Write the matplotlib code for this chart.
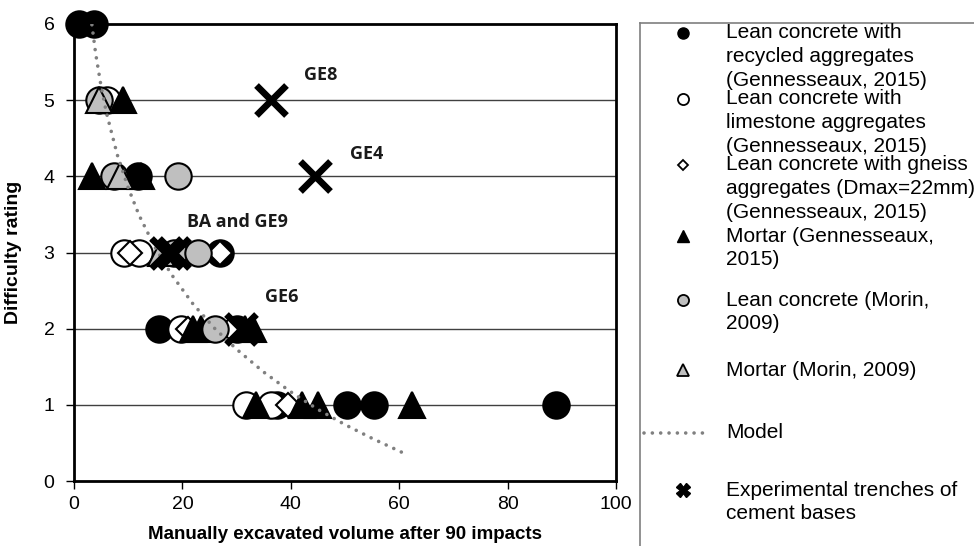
import numpy as np
import matplotlib.pyplot as plt

# Données
black_circle_x = [0.9, 3.7, 11.8, 27.0, 15.7, 30.0, 37.5, 50.3, 55.3, 89.0]
black_circle_y = [6, 6, 4, 3, 2, 2, 1, 1, 1, 1]

open_circle_x = [6.0, 9.2, 12.0, 19.8, 31.7, 36.3]
open_circle_y = [5, 3, 3, 2, 1, 1]

open_diamond_x = [10.3, 27.0, 21.0, 28.9, 39.5]
open_diamond_y = [3, 3, 2, 2, 1]

black_triangle_x = [9.0, 3.3, 12.3, 21.9, 23.5, 31.5, 33.1, 33.5, 42.0, 45.0, 62.3]
black_triangle_y = [5, 4, 4, 2, 2, 2, 2, 1, 1, 1, 1]

gray_circle_x = [4.6, 7.4, 19.2, 18.4, 22.8, 26.0]
gray_circle_y = [5, 4, 4, 3, 3, 2]

gray_triangle_x = [4.6, 8.5, 16.0]
gray_triangle_y = [5, 4, 3]

model_x = [3.3, 4, 5, 6, 8, 10, 12, 15, 18, 22, 26, 30, 35, 40, 45, 50, 55, 61]
model_y = [5.99, 5.61, 5.18, 4.83, 4.28, 3.85, 3.49, 3.06, 2.71, 2.32, 2.00,
           1.73, 1.43, 1.17, 0.94, 0.74, 0.56, 0.36]

trench_x = [36.3, 44.4, 17.0, 18.5, 30.8]
trench_y = [5, 4, 3, 3, 2]

labels = ['GE8', 'GE4', 'BA and GE9', 'GE6']
label_x = [42.4, 51.0, 20.8, 35.2]
label_y = [5.33, 4.29, 3.40, 2.42]

legend_labels = [
    'Lean concrete with\nrecycled aggregates\n(Gennesseaux, 2015)',
    'Lean concrete with\nlimestone aggregates\n(Gennesseaux, 2015)',
    'Lean concrete with gneiss\naggregates (Dmax=22mm)\n(Gennesseaux, 2015)',
    'Mortar (Gennesseaux,\n2015)',
    'Lean concrete (Morin,\n2009)',
    'Mortar (Morin, 2009)',
    'Model',
    'Experimental trenches of\ncement bases',
]

plt.rcParams['font.family'] = ['Liberation Sans', 'DejaVu Sans']
GRAY = '#BFBFBF'

fig = plt.figure(figsize=(9.74, 5.46), dpi=100)
ax = fig.add_axes([74 / 974, (546 - 481) / 546, (616 - 74) / 974, (481 - 24) / 546])

for y in range(1, 6):
    ax.axhline(y, color='#404040', lw=1.0, zorder=0)

ms = 19
kw = dict(linestyle='none', clip_on=False)
ax.plot(black_circle_x, black_circle_y, marker='o', ms=ms, mfc='black', mec='black', mew=1.5, zorder=3, **kw)
ax.plot(open_circle_x, open_circle_y, marker='o', ms=ms, mfc='white', mec='black', mew=1.5, zorder=4, **kw)
ax.plot(open_diamond_x, open_diamond_y, marker='D', ms=12, mfc='white', mec='black', mew=1.5, zorder=5, **kw)
ax.plot(black_triangle_x, black_triangle_y, marker='^', ms=ms, mfc='black', mec='black', mew=1.5, zorder=6, **kw)
ax.plot(gray_circle_x, gray_circle_y, marker='o', ms=ms, mfc=GRAY, mec='black', mew=1.5, zorder=7, **kw)
ax.plot(gray_triangle_x, gray_triangle_y, marker='^', ms=ms, mfc=GRAY, mec='black', mew=1.5, zorder=8, **kw)
ax.plot(model_x, model_y, color='#808080', lw=2.6, linestyle=(0, (0.01, 2.3)),
        dash_capstyle='round', zorder=9)
ax.plot(trench_x, trench_y, marker='x', ms=22, mec='black', mew=4.8, zorder=10, **kw)

for t, x, y in zip(labels, label_x, label_y):
    ax.text(x, y, t, fontsize=13, fontweight='bold', family=['Open Sans', 'DejaVu Sans'],
            va='center', ha='left', color='#1a1a1a')

ax.set_xlim(0, 100)
ax.set_ylim(0, 6)
ax.set_xticks([0, 20, 40, 60, 80, 100])
ax.set_yticks(range(0, 7))
for s in ax.spines.values():
    s.set_linewidth(2)
ax.tick_params(direction='out', length=6, width=1, labelsize=14, colors='black')
ax.tick_params(axis='y', pad=8)
ax.tick_params(axis='x', pad=5)
ax.set_xlabel('Manually excavated volume after 90 impacts', fontsize=13.5, fontweight='bold')
ax.set_ylabel('Difficulty rating', fontsize=14, fontweight='bold')
ax.xaxis.set_label_coords(0.5, -0.118)
ax.xaxis.label.set_va('center')
ax.yaxis.set_label_coords(-0.112, 0.5)
ax.yaxis.label.set_va('center')

# Légende dessinée à la main, en coordonnées pixels
lg = fig.add_axes([640 / 974, 0, (974 - 640) / 974, (546 - 23) / 546])
lg.set_xlim(640, 974)
lg.set_ylim(546, 23)
lg.set_xticks([])
lg.set_yticks([])
lg.patch.set_alpha(0)
for s in ['right', 'bottom']:
    lg.spines[s].set_visible(False)
for s in ['left', 'top']:
    lg.spines[s].set_color('#7f7f7f')
    lg.spines[s].set_linewidth(1.2)

entry_y = [33, 99, 165, 236, 300, 370, 433, 490]
mk = 683
lg.plot(mk, entry_y[0], 'o', ms=8, mfc='black', mec='black')
lg.plot(mk, entry_y[1], 'o', ms=8, mfc='white', mec='black', mew=1.3)
lg.plot(mk, entry_y[2], 'D', ms=5.5, mfc='white', mec='black', mew=1.3)
lg.plot(mk, entry_y[3], '^', ms=8, mfc='black', mec='black')
lg.plot(mk, entry_y[4], 'o', ms=8, mfc=GRAY, mec='black', mew=1.3)
lg.plot(mk, entry_y[5], '^', ms=8, mfc=GRAY, mec='black', mew=1.3)
lg.plot([644, 710], [entry_y[6], entry_y[6]], color='#808080', lw=2.6,
        linestyle=(0, (0.01, 2.3)), dash_capstyle='round', clip_on=False)
lg.plot(mk, entry_y[7], 'X', ms=10, mfc='black', mec='black')

pitch = 23.5
for lab, y0 in zip(legend_labels, entry_y):
    for i, line in enumerate(lab.split('\n')):
        lg.text(726, y0 + i * pitch, line, fontsize=15, va='center', ha='left', clip_on=False)

fig.savefig('out.png', dpi=100)
